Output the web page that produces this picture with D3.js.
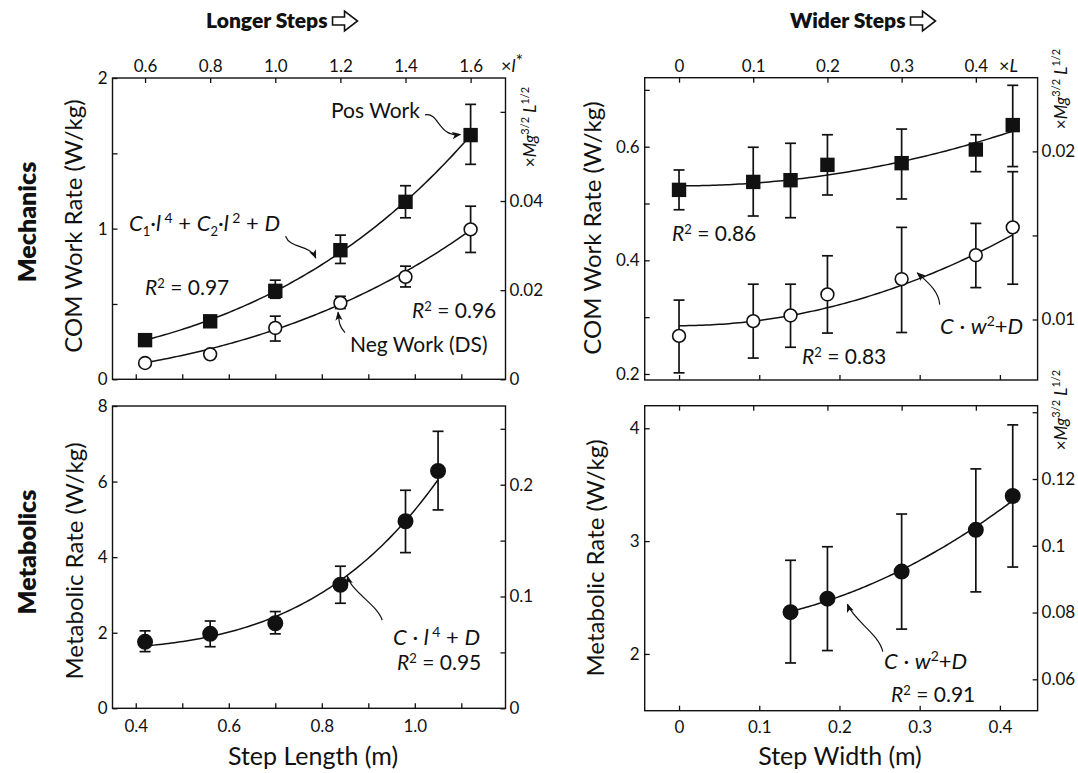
<!DOCTYPE html>
<html><head><meta charset="utf-8">
<script src="https://cdn.jsdelivr.net/npm/d3@7"></script>
<style>
body{margin:0;background:#fff}
svg{display:block}
text{font-family:Lato,'Open Sans',sans-serif;fill:#111}
</style></head>
<body><svg id="c" width="1078" height="773"></svg>
<script>
// ---------------- DATA ----------------
// Step length experiment (m); mechanics points at l* = 0.6..1.6
const stepLenMech = [0.42, 0.56, 0.70, 0.84, 0.98, 1.12];
const posWorkLen   = [0.26, 0.385, 0.587, 0.857, 1.178, 1.621];
const posWorkLenLo = [0.235, 0.36, 0.538, 0.769, 1.072, 1.427];
const posWorkLenHi = [0.285, 0.41, 0.658, 0.957, 1.285, 1.825];
const negWorkLen   = [0.108, 0.166, 0.341, 0.507, 0.68, 0.995];
const negWorkLenLo = [0.09, 0.15, 0.254, 0.47, 0.613, 0.842];
const negWorkLenHi = [0.126, 0.182, 0.419, 0.551, 0.751, 1.149];

const stepLenMet = [0.42, 0.56, 0.70, 0.84, 0.98, 1.05];
const metabLen   = [1.76, 1.97, 2.25, 3.27, 4.95, 6.28];
const metabLenLo = [1.50, 1.63, 1.97, 2.78, 4.12, 5.25];
const metabLenHi = [2.05, 2.31, 2.56, 3.76, 5.77, 7.33];

// Step width experiment (m)
const stepWidMech = [0, 0.0925, 0.139, 0.185, 0.2775, 0.37, 0.416];
const posWorkWid   = [0.524, 0.538, 0.541, 0.568, 0.571, 0.595, 0.638];
const posWorkWidLo = [0.489, 0.478, 0.475, 0.515, 0.508, 0.556, 0.565];
const posWorkWidHi = [0.559, 0.599, 0.606, 0.621, 0.631, 0.621, 0.708];
const negWorkWid   = [0.267, 0.293, 0.303, 0.340, 0.367, 0.409, 0.458];
const negWorkWidLo = [0.202, 0.228, 0.247, 0.272, 0.273, 0.352, 0.358];
const negWorkWidHi = [0.330, 0.358, 0.358, 0.408, 0.458, 0.465, 0.556];

const stepWidMet = [0.139, 0.185, 0.2775, 0.37, 0.416];
const metabWid   = [2.37, 2.49, 2.73, 3.10, 3.40];
const metabWidLo = [1.92, 2.03, 2.22, 2.55, 2.77];
const metabWidHi = [2.83, 2.95, 3.24, 3.64, 4.03];

// fitted curve coefficients
const fitPosLen = [0.0707, 0.4116, 0.1027];   // C1, C2, D  (l*)
const fitNegLen = [0.03606, 0.2947, -0.0008]; // C1, C2, D  (l*)
const fitMetLen = [3.715, 1.534];             // C, D (m)
const fitPosWid = [0.556, 0.531];             // C, D (m)
const fitNegWid = [0.924, 0.285];
const fitMetWid = [6.39, 2.253];

// unit conversions
const lStarRef = 0.70;    // m per unit l*
const legLen = 0.925;     // L (m)
const dimlessFactor = 0.0338; // W/kg -> x Mg^{3/2} L^{1/2}

// tick values
const lStarTicks = [0.6, 0.8, 1.0, 1.2, 1.4, 1.6];
const widthLTicks = [0, 0.1, 0.2, 0.3, 0.4];
const stepLenTicks = [0.4, 0.6, 0.8, 1.0];
const stepLenMinor = [0.5, 0.7, 0.9, 1.1];
const stepWidTicks = [0, 0.1, 0.2, 0.3, 0.4];
const comLenTicks = [0, 1, 2], comLenMinor = [0.5, 1.5];
const comLenRTicks = [0, 0.02, 0.04], comLenRMinor = [0.06];
const comWidTicks = [0.2, 0.4, 0.6], comWidMinor = [0.3, 0.5, 0.7];
const comWidRTicks = [0.01, 0.02], comWidRMinor = [0.015];
const metLenTicks = [0, 2, 4, 6, 8];
const metLenRTicks = [0, 0.1, 0.2], metLenRMinor = [0.05, 0.15, 0.25];
const metWidTicks = [2, 3, 4];
const metWidRTicks = [0.06, 0.08, 0.1, 0.12], metWidRMinor = [0.14];

// ---------------- DRAW ----------------
const svg = d3.select('#c');
const defs = svg.append('defs');
defs.append('marker').attr('id','ah').attr('viewBox','0 0 10 10').attr('refX',9).attr('refY',5)
  .attr('markerWidth',9).attr('markerHeight',9).attr('markerUnits','userSpaceOnUse').attr('orient','auto')
  .append('path').attr('d','M0,1 L10,5 L0,9 L2.5,5 Z').attr('fill','#111');

const TICK = 5;
function rich(parent, parts, x, y, opts={}) {
  const t = parent.append('text').attr('x', x).attr('y', y)
    .attr('font-size', opts.fs || 21).attr('text-anchor', opts.anchor || 'start');
  if (opts.rotate) t.attr('transform', `rotate(-90,${x},${y})`);
  let shift = 0;
  parts.forEach(p => {
    const ts = t.append('tspan').text(p.t);
    if (p.i) ts.attr('font-style','italic');
    if (p.fs) ts.attr('font-size', p.fs);
    const target = p.sup ? -p.sup : (p.sub ? p.sub : 0);
    if (target !== shift) { ts.attr('dy', target - shift); shift = target; }
  });
  return t;
}

function makePanel(box, xDom, yDom) {
  const g = svg.append('g');
  const x = d3.scaleLinear().domain(xDom).range([box.x0, box.x1]);
  const y = d3.scaleLinear().domain(yDom).range([box.y1, box.y0]);
  const yR = d3.scaleLinear().domain(yDom.map(v => v * dimlessFactor)).range([box.y1, box.y0]);
  g.append('rect').attr('x', box.x0).attr('y', box.y0).attr('width', box.x1 - box.x0)
    .attr('height', box.y1 - box.y0).attr('fill','none').attr('stroke','#111').attr('stroke-width',1.4);
  return {g, x, y, yR, box};
}

function axis(p, gen, scale, ticks, fmt, pos, pad) {
  const a = gen(scale).tickValues(ticks).tickSizeInner(-TICK).tickSizeOuter(0).tickPadding(pad)
    .tickFormat(fmt ? fmt : () => '');
  const tr = {left:`translate(${p.box.x0},0)`, right:`translate(${p.box.x1},0)`,
              top:`translate(0,${p.box.y0})`, bottom:`translate(0,${p.box.y1})`}[pos];
  const ag = p.g.append('g').attr('transform', tr).call(a);
  ag.select('.domain').remove();
  ag.selectAll('line').attr('stroke','#111').attr('stroke-width',1.3);
  ag.selectAll('text').attr('font-family','Lato, sans-serif').attr('font-size',17).attr('fill','#111');
  return ag;
}

function fitCurve(p, x0, x1, f, xToData) {
  const xs = d3.range(0, 101).map(i => x0 + (x1 - x0) * i / 100);
  p.g.append('path').datum(xs).attr('fill','none').attr('stroke','#111').attr('stroke-width',1.5)
    .attr('d', d3.line().x(d => p.x(d)).y(d => p.y(f(xToData ? xToData(d) : d))));
}

function errBars(p, xs, lo, hi) {
  const cw = 5.5;
  const eg = p.g.append('g').attr('stroke','#111').attr('stroke-width',1.7);
  xs.forEach((xv, i) => {
    const X = p.x(xv), Y1 = p.y(lo[i]), Y2 = p.y(hi[i]);
    eg.append('line').attr('x1',X).attr('x2',X).attr('y1',Y1).attr('y2',Y2);
    eg.append('line').attr('x1',X-cw).attr('x2',X+cw).attr('y1',Y1).attr('y2',Y1);
    eg.append('line').attr('x1',X-cw).attr('x2',X+cw).attr('y1',Y2).attr('y2',Y2);
  });
}
function squares(p, xs, ys) {
  p.g.append('g').selectAll('rect').data(xs).join('rect')
    .attr('x', (d) => p.x(d) - 7.2).attr('y', (d,i) => p.y(ys[i]) - 7.2)
    .attr('width',14.4).attr('height',14.4).attr('fill','#111');
}
function circles(p, xs, ys, filled) {
  p.g.append('g').selectAll('circle').data(xs).join('circle')
    .attr('cx', d => p.x(d)).attr('cy', (d,i) => p.y(ys[i]))
    .attr('r', filled ? 7.2 : 6.4).attr('fill', filled ? '#111' : '#fff')
    .attr('stroke','#111').attr('stroke-width',1.6);
}
function arrow(p, s, e, c1, c2) {
  const S = [p.x(s[0]), p.y(s[1])], E = [p.x(e[0]), p.y(e[1])];
  p.g.append('path').attr('fill','none').attr('stroke','#111').attr('stroke-width',1.2)
    .attr('marker-end','url(#ah)')
    .attr('d', `M${S[0]},${S[1]} C${S[0]+c1[0]},${S[1]+c1[1]} ${E[0]+c2[0]},${E[1]+c2[1]} ${E[0]},${E[1]}`);
}
function rightLabel(x, y) {
  rich(svg, [{t:'×'},{t:'Mg',i:1},{t:'3/2',sup:7,fs:11},{t:' '},{t:'L',i:1},{t:'1/2',sup:7,fs:11}],
    x, y, {fs:17, anchor:'middle', rotate:true});
}
const f1 = d3.format('.1f');
const fmtG = d => String(+d.toFixed(3));
const AF = 21; // annotation font size

// ===== Top-left: COM work vs step length =====
const tl = makePanel({x0:112.5, x1:505.5, y0:78, y1:379.3}, [0.35, 1.195], [0, 2]);
axis(tl, d3.axisLeft, tl.y, comLenTicks, d3.format('d'), 'left', 5);
axis(tl, d3.axisLeft, tl.y, comLenMinor, null, 'left', 5);
axis(tl, d3.axisRight, tl.yR, comLenRTicks, fmtG, 'right', 4);
axis(tl, d3.axisRight, tl.yR, comLenRMinor, null, 'right', 4);
const tlTop = d3.scaleLinear().domain(tl.x.domain().map(v => v / lStarRef)).range(tl.x.range());
axis(tl, d3.axisTop, tlTop, lStarTicks, f1, 'top', 6);
axis(tl, d3.axisBottom, tl.x, stepLenTicks.concat(stepLenMinor), null, 'bottom', 5);
fitCurve(tl, 0.42, 1.12, ls => fitPosLen[0]*ls**4 + fitPosLen[1]*ls**2 + fitPosLen[2], d => d / lStarRef);
fitCurve(tl, 0.42, 1.12, ls => fitNegLen[0]*ls**4 + fitNegLen[1]*ls**2 + fitNegLen[2], d => d / lStarRef);
errBars(tl, stepLenMech, posWorkLenLo, posWorkLenHi);
errBars(tl, stepLenMech, negWorkLenLo, negWorkLenHi);
squares(tl, stepLenMech, posWorkLen);
circles(tl, stepLenMech, negWorkLen, false);
rich(svg, [{t:'×'},{t:'l',i:1},{t:'*',sup:5}], 501, 72, {fs:18});
rightLabel(536, 127);
rich(svg, [{t:'Pos Work'}], 331, 118, {fs:AF});
rich(svg, [{t:'C',i:1},{t:'1',sub:5,fs:13},{t:'·'},{t:'l',i:1},{t:' 4',sup:8,fs:14},{t:' + '},
  {t:'C',i:1},{t:'2',sub:5,fs:13},{t:'·'},{t:'l',i:1},{t:' 2',sup:8,fs:14},{t:' + '},{t:'D',i:1}], 129, 231, {fs:22});
rich(svg, [{t:'R',i:1},{t:'2',sup:7,fs:13},{t:' = 0.97'}], 145, 295, {fs:AF});
rich(svg, [{t:'R',i:1},{t:'2',sup:7,fs:13},{t:' = 0.96'}], 412, 318, {fs:AF});
rich(svg, [{t:'Neg Work (DS)'}], 350, 352, {fs:AF});
arrow(tl, [1.022, 1.755], [1.098, 1.625], [14, -3], [-22, 3]);
arrow(tl, [0.722, 0.95], [0.787, 0.805], [5, 13], [-6, -14]);
arrow(tl, [0.85, 0.31], [0.835, 0.445], [-6, -6], [1, 9]);

// ===== Top-right: COM work vs step width =====
const tr = makePanel({x0:644.7, x1:1037.6, y0:77.7, y1:380}, [-0.0428, 0.447], [0.1894, 0.7214]);
axis(tr, d3.axisLeft, tr.y, comWidTicks, f1, 'left', 5);
axis(tr, d3.axisLeft, tr.y, comWidMinor, null, 'left', 5);
axis(tr, d3.axisRight, tr.yR, comWidRTicks, d3.format('.2f'), 'right', 4);
axis(tr, d3.axisRight, tr.yR, comWidRMinor, null, 'right', 4);
const trTop = d3.scaleLinear().domain(tr.x.domain().map(v => v / legLen)).range(tr.x.range());
axis(tr, d3.axisTop, trTop, widthLTicks, fmtG, 'top', 6);
axis(tr, d3.axisBottom, tr.x, stepWidTicks, null, 'bottom', 5);
fitCurve(tr, 0, 0.416, w => fitPosWid[0]*w*w + fitPosWid[1]);
fitCurve(tr, 0, 0.416, w => fitNegWid[0]*w*w + fitNegWid[1]);
errBars(tr, stepWidMech, posWorkWidLo, posWorkWidHi);
errBars(tr, stepWidMech, negWorkWidLo, negWorkWidHi);
squares(tr, stepWidMech, posWorkWid);
circles(tr, stepWidMech, negWorkWid, false);
rich(svg, [{t:'×'},{t:'L',i:1}], 999, 72, {fs:18});
rightLabel(1067, 89);
rich(svg, [{t:'R',i:1},{t:'2',sup:7,fs:13},{t:' = 0.86'}], 672, 241, {fs:AF});
rich(svg, [{t:'C',i:1},{t:' · '},{t:'w',i:1},{t:'2',sup:8,fs:14},{t:'+'},{t:'D',i:1}], 940, 334, {fs:22});
rich(svg, [{t:'R',i:1},{t:'2',sup:7,fs:13},{t:' = 0.83'}], 802, 364, {fs:AF});
arrow(tr, [0.325, 0.322], [0.297, 0.378], [-1, -14], [10, 9]);

// ===== Bottom-left: metabolic vs step length =====
const bl = makePanel({x0:112.5, x1:505.5, y0:406, y1:708.3}, [0.35, 1.195], [0, 8]);
axis(bl, d3.axisLeft, bl.y, metLenTicks, d3.format('d'), 'left', 5);
axis(bl, d3.axisRight, bl.yR, metLenRTicks, fmtG, 'right', 4);
axis(bl, d3.axisRight, bl.yR, metLenRMinor, null, 'right', 4);
axis(bl, d3.axisBottom, bl.x, stepLenTicks, f1, 'bottom', 12);
axis(bl, d3.axisBottom, bl.x, stepLenMinor, null, 'bottom', 12);
fitCurve(bl, 0.42, 1.05, l => fitMetLen[0]*l**4 + fitMetLen[1]);
errBars(bl, stepLenMet, metabLenLo, metabLenHi);
circles(bl, stepLenMet, metabLen, true);
rich(svg, [{t:'C',i:1},{t:' · '},{t:'l',i:1},{t:' 4',sup:8,fs:14},{t:' + '},{t:'D',i:1}], 393, 645, {fs:22});
rich(svg, [{t:'R',i:1},{t:'2',sup:7,fs:13},{t:' = 0.95'}], 397, 670, {fs:AF});
arrow(bl, [0.93, 2.33], [0.855, 3.5], [-5, -16], [4, 16]);

// ===== Bottom-right: metabolic vs step width =====
const br = makePanel({x0:644.7, x1:1037.6, y0:405.7, y1:710.7}, [-0.0428, 0.447], [1.497, 4.2]);
axis(br, d3.axisLeft, br.y, metWidTicks, d3.format('d'), 'left', 5);
axis(br, d3.axisRight, br.yR, metWidRTicks, fmtG, 'right', 4);
axis(br, d3.axisRight, br.yR, metWidRMinor, null, 'right', 4);
axis(br, d3.axisBottom, br.x, stepWidTicks, fmtG, 'bottom', 10);
const brTop = d3.scaleLinear().domain(br.x.domain().map(v => v / legLen)).range(br.x.range());
axis(br, d3.axisTop, brTop, widthLTicks, null, 'top', 6);
fitCurve(br, 0.139, 0.416, w => fitMetWid[0]*w*w + fitMetWid[1]);
errBars(br, stepWidMet, metabWidLo, metabWidHi);
circles(br, stepWidMet, metabWid, true);
rightLabel(1067, 410);
rich(svg, [{t:'C',i:1},{t:' · '},{t:'w',i:1},{t:'2',sup:8,fs:14},{t:'+'},{t:'D',i:1}], 884, 669, {fs:22});
rich(svg, [{t:'R',i:1},{t:'2',sup:7,fs:13},{t:' = 0.91'}], 891, 702, {fs:AF});
arrow(br, [0.254, 2.02], [0.21, 2.44], [-4, -18], [6, 16]);

// ===== Titles & axis titles =====
function title(txt, x) {
  const t = svg.append('text').attr('x', x).attr('y', 28).attr('font-family','"Open Sans",sans-serif')
    .attr('font-weight',800).attr('font-size',21).text(txt);
  const w = t.node().getComputedTextLength();
  const ax = x + w + 5, ay = 21;
  svg.append('path').attr('d', `M${ax},${ay-4} h12 v-6 l13,10 l-13,10 v-6 h-12 Z`)
    .attr('fill','#fff').attr('stroke','#111').attr('stroke-width',1.6).attr('stroke-linejoin','miter');
}
title('Longer Steps', 206);
title('Wider Steps', 790);
function vTitle(txt, x, y, bold) {
  svg.append('text').attr('x', x).attr('y', y).attr('transform', `rotate(-90,${x},${y})`)
    .attr('text-anchor','middle').attr('font-size', bold ? 25 : 24)
    .attr('font-family', bold ? '"Open Sans",sans-serif' : 'Lato,sans-serif')
    .attr('font-weight', bold ? 800 : 400).text(txt);
}
vTitle('Mechanics', 36, 222, true);
vTitle('Metabolics', 36, 552, true);
vTitle('COM Work Rate (W/kg)', 82, 226);
vTitle('Metabolic Rate (W/kg)', 83, 561);
vTitle('COM Work Rate (W/kg)', 601, 228);
vTitle('Metabolic Rate (W/kg)', 604, 558);
svg.append('text').attr('x', 313).attr('y', 765).attr('text-anchor','middle').attr('font-size',25).text('Step Length (m)');
svg.append('text').attr('x', 840).attr('y', 765).attr('text-anchor','middle').attr('font-size',25).text('Step Width (m)');
</script></body></html>
